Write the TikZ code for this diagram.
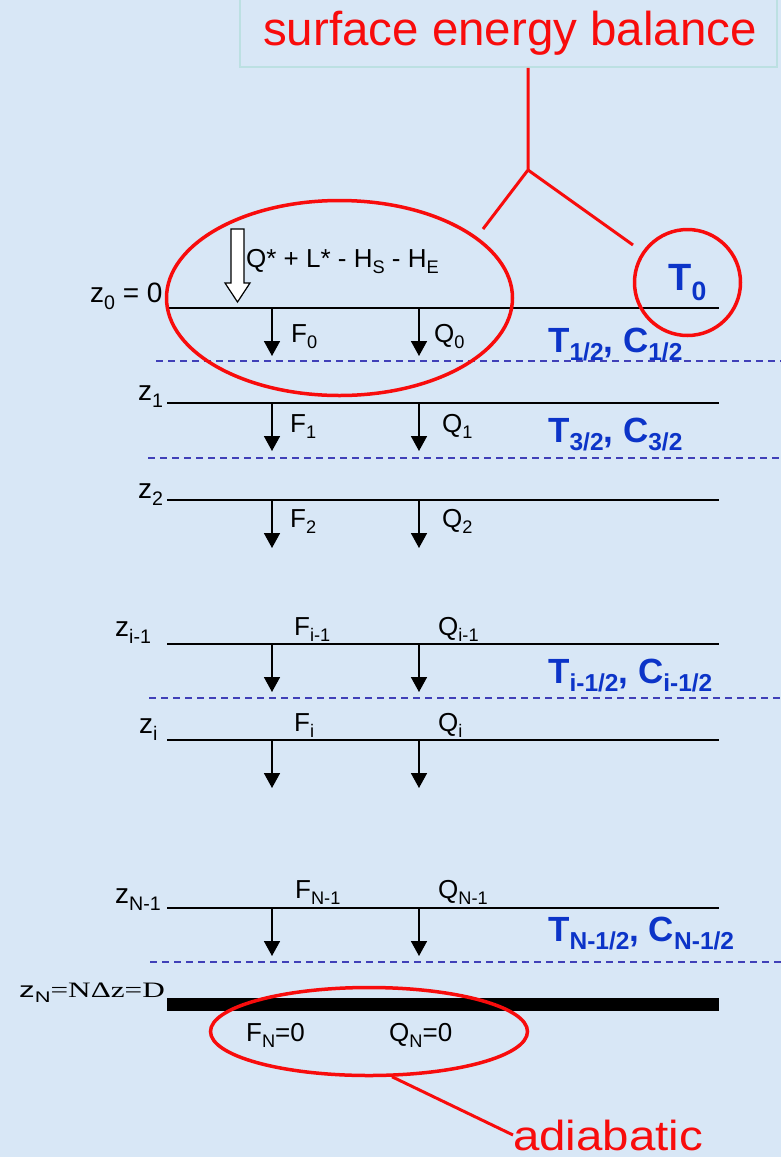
\documentclass[tikz,border=0pt]{standalone}
\usepackage{fontspec}
\setmainfont{Liberation Sans}
\newfontfamily\tms{Liberation Serif}
\usepackage{graphicx}
\usepackage{tikz}
\usetikzlibrary{arrows.meta,shapes.geometric}
\definecolor{bgblue}{RGB}{216,231,246}
\definecolor{pptred}{RGB}{248,12,12}
\definecolor{pptblue}{RGB}{12,52,200}
\definecolor{dashblue}{RGB}{64,64,184}
\definecolor{boxedge}{RGB}{188,224,226}
% lowered, smaller subscript as in the slide
\newcommand{\lowr}[1]{\raisebox{-.25em}{\scalebox{.7}{#1}}}

\begin{document}
\begin{tikzpicture}[x=1pt,y=-1pt,
  layer/.style={line width=1.7pt},
  cell/.style={dashblue, line width=1.3pt, dash pattern=on 7pt off 5pt},
  flux/.style={line width=1.7pt, -{Triangle[width=16pt,length=15pt]}},
  lbl/.style={inner sep=0, anchor=base west, font=\fontsize{26}{30}\selectfont},
  zlbl/.style={lbl, font=\fontsize{28}{30}\selectfont},
  tc/.style={inner sep=0, anchor=base west, text=pptblue, font=\bfseries\fontsize{35}{40}\selectfont},
  ring/.style={draw=pptred, line width=3.5pt, inner sep=0},
  callout/.style={pptred, line width=3pt}]
  % page: 781 x 1157, y grows downwards
  \useasboundingbox (0,0) rectangle (781,1157);
  \clip (0,0) rectangle (781,1157);
  \fill[bgblue] (0,0) rectangle (781,1157);

  % title box at the top
  \node[draw=boxedge, line width=1.5pt, minimum width=537pt, minimum height=80pt, inner sep=0] (tbox) at (508.5,27) {};
  \node[inner sep=0, anchor=base, text=pptred, font=\fontsize{47.5}{50}\selectfont] (title) at (510,45) {surface energy balance};

  % cell boundaries (dashed) between the layers
  \foreach \x/\y in {156/361,148/458,149/698,150/962}
    \draw[cell] (\x,\y) -- (781,\y);

  % layers z_0 ... z_{N-1} with the two fluxes
  \foreach \nm/\y in {0/308,1/403,2/500,a/644,b/740,c/908} {
    \draw[layer] (167,\y) coordinate (L\nm) -- (719,\y);
    \draw[flux] (272,\y) coordinate (F\nm) -- ++(0,48);
    \draw[flux] (419,\y) coordinate (Q\nm) -- ++(0,48);
  }
  % bottom z_N, thick
  \fill (167,998) rectangle (719,1011);

  % incoming surface flux
  \draw[fill=white, line width=1.2pt] (231,229) -- (244,229) -- (244,283) -- (250,283)
    -- (237.5,302) -- (225,283) -- (231,283) -- cycle;
  \node[lbl, font=\fontsize{26}{30}\selectfont] (qstar) at (246,267) {Q* + L* - H\lowr{S} - H\lowr{E}};

  % depth labels
  \node[zlbl] (z0) at (90,302) {z\lowr{0} = 0};
  \node[zlbl] (z1) at (138,400) {z\lowr{1}};
  \node[zlbl] (z2) at (138,498) {z\lowr{2}};
  \node[zlbl] (zim) at (115,636) {z\lowr{i-1}};
  \node[zlbl] (zi) at (139,733) {z\lowr{i}};
  \node[zlbl] (zNm) at (115,903) {z\lowr{N-1}};
  \node[inner sep=0, anchor=base west, font=\fontsize{22}{24}\selectfont] (zN) at (19,997)
    {\scalebox{1.42}[1]{z\lowr{N}{\tms =NΔz=D}}};

  % flux labels
  \node[lbl] (f0) at (291,342) {F\lowr{0}};
  \node[lbl] (q0) at (434,342) {Q\lowr{0}};
  \node[lbl] (f1) at (290,432) {F\lowr{1}};
  \node[lbl] (q1) at (442,432) {Q\lowr{1}};
  \node[lbl] (f2) at (290,527) {F\lowr{2}};
  \node[lbl] (q2) at (442,527) {Q\lowr{2}};
  \node[lbl] (fim) at (294,635) {F\lowr{i-1}};
  \node[lbl] (qim) at (438,635) {Q\lowr{i-1}};
  \node[lbl] (fi) at (294,731) {F\lowr{i}};
  \node[lbl] (qi) at (438,731) {Q\lowr{i}};
  \node[lbl] (fNm) at (295,898) {F\lowr{N-1}};
  \node[lbl] (qNm) at (438,898) {Q\lowr{N-1}};
  \node[lbl] (fN) at (246,1041) {F\lowr{N}=0};
  \node[lbl] (qN) at (389,1041) {Q\lowr{N}=0};

  % cell temperatures and heat capacities
  \node[tc] (tc1) at (548,352) {T\lowr{1/2}, C\lowr{1/2}};
  \node[tc] (tc3) at (548,442) {T\lowr{3/2}, C\lowr{3/2}};
  \node[tc] (tci) at (548,683) {T\lowr{i-1/2}, C\lowr{i-1/2}};
  \node[tc] (tcN) at (548,941) {T\lowr{N-1/2}, C\lowr{N-1/2}};

  % red call-outs
  \node[ring, ellipse, minimum width=346pt, minimum height=195pt] (surf) at (339.5,298) {};
  \node[ring, circle, minimum size=106pt, text=pptblue, font=\bfseries\fontsize{38}{40}\selectfont] (t0) at (687.5,282.5) {T\lowr{0}};
  \coordinate (fork) at (528,170);
  \coordinate (seL) at (483,229);
  \coordinate (seR) at (633,245);
  \draw[callout] (tbox.south -| fork) -- (fork) -- (seL);
  \draw[callout] (fork) -- (seR);

  \node[ring, ellipse, minimum width=317pt, minimum height=88pt] (bot) at (369,1031.5) {};
  \node[inner sep=0, anchor=base west, text=pptred, font=\fontsize{42}{46}\selectfont] (adia) at (513,1150) {\scalebox{1.13}[1]{adiabatic}};
  \draw[callout] (bot.-63) -- (adia.west);
\end{tikzpicture}
\end{document}
